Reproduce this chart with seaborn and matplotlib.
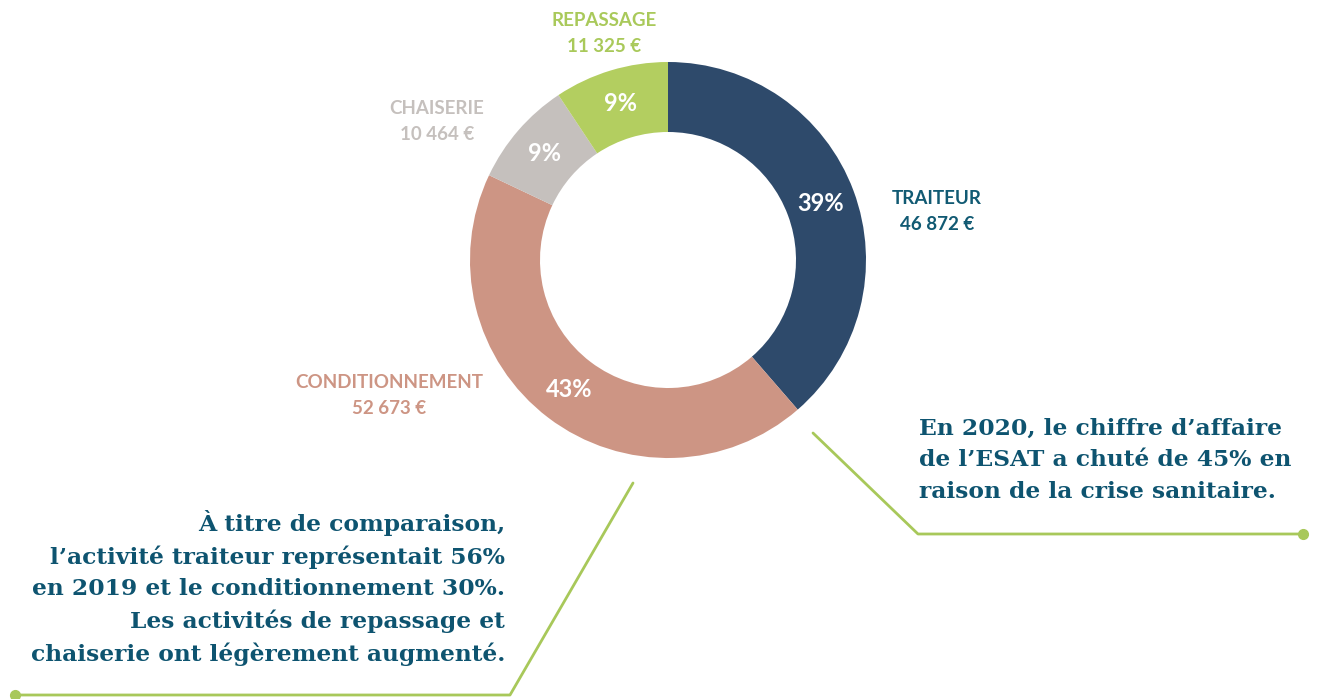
import matplotlib
matplotlib.use("Agg")
import matplotlib.pyplot as plt
import seaborn as sns
import numpy as np

# ---- data ----
categories = ["TRAITEUR", "CONDITIONNEMENT", "CHAISERIE", "REPASSAGE"]
amounts = [46872, 52673, 10464, 11325]
amount_labels = ["46 872 €", "52 673 €", "10 464 €", "11 325 €"]
pct_labels = ["39%", "43%", "9%", "9%"]
slice_colors = ["#2E4A6B", "#CD9584", "#C5C0BD", "#B3CE60"]
label_colors = ["#115A73", "#CD9584", "#C5C0BD", "#A9C95A"]

note_right = "En 2020, le chiffre d’affaire\nde l’ESAT a chuté de 45% en\nraison de la crise sanitaire."
note_left = ("À titre de comparaison,\nl’activité traiteur représentait 56%\n"
             "en 2019 et le conditionnement 30%.\nLes activités de repassage et\n"
             "chaiserie ont légèrement augmenté.")

sns.set_theme(style="white")
plt.rcParams["font.family"] = ["Lato", "DejaVu Sans"]

W, H = 1318, 699
fig = plt.figure(figsize=(W / 100, H / 100), dpi=100)
ax = fig.add_axes([0, 0, 1, 1])

def Y(y):
    return H - y

cx, cy, R = 668, 260, 198
wedges, texts = ax.pie(
    amounts, colors=slice_colors, startangle=90, counterclock=False,
    center=(cx, Y(cy)), radius=R, frame=True,
    wedgeprops=dict(width=70, linewidth=0),
)

# percentage labels inside ring
theta = 90.0
total = sum(amounts)
for v, p in zip(amounts, pct_labels):
    span = 360.0 * v / total
    mid = np.deg2rad(theta - span / 2)
    theta -= span
    r = 163
    ax.text(cx + r * np.cos(mid), Y(cy) + r * np.sin(mid), p, color="white",
            fontsize=17, fontweight="bold", ha="center", va="center")

# category labels
label_pos = {
    "TRAITEUR": (937, 199),
    "CONDITIONNEMENT": (389, 383),
    "CHAISERIE": (437, 108),
    "REPASSAGE": (604, 20),
}
for cat, amt, col in zip(categories, amount_labels, label_colors):
    x, y = label_pos[cat]
    ax.text(x, Y(y), cat, color=col, fontsize=13.5, fontweight="bold",
            ha="center", va="center")
    ax.text(x, Y(y + 26), amt, color=col, fontsize=13.5, fontweight="bold",
            ha="center", va="center")

# notes
text_col = "#0E5470"
ax.text(919, Y(418), note_right, color=text_col, fontsize=16.8, fontweight="bold",
        family="DejaVu Serif", ha="left", va="top", linespacing=1.55)
ax.text(505, Y(510), note_left, color=text_col, fontsize=16.8, fontweight="bold",
        family="DejaVu Serif", ha="right", va="top", linespacing=1.52)

# connector lines
green = "#A8C85A"
ax.plot([813, 918, 1303], [Y(433), Y(534), Y(534)], color=green, lw=2,
        solid_capstyle="round")
ax.plot([1303], [Y(534)], "o", color=green, ms=7)
ax.plot([633, 510, 15], [Y(483), Y(695), Y(695)], color=green, lw=2,
        solid_capstyle="round", clip_on=False)
ax.plot([15], [Y(695)], "o", color=green, ms=7, clip_on=False)

ax.set_xlim(0, W)
ax.set_ylim(0, H)
ax.set_aspect("equal")
ax.axis("off")

fig.savefig("out.png", dpi=100, facecolor="white")
